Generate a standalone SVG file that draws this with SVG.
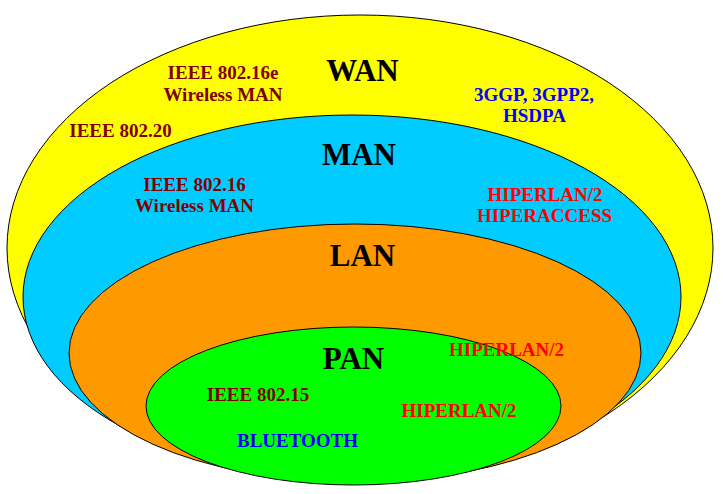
<svg xmlns="http://www.w3.org/2000/svg" width="723" height="494" viewBox="0 0 723 494">
<style>
.ring{stroke:#000;stroke-width:1}
text{font-family:"Liberation Serif","Times New Roman",serif;font-weight:bold;text-anchor:middle}
.title{font-size:31px;fill:#000}
.lbl{font-size:19px}
.ieee{fill:#800000}
.red{fill:#FF0000}
.blue{fill:#0000FF}
</style>
<rect width="723" height="494" fill="#fff"/>
<g id="wan">
<ellipse class="ring" cx="360" cy="248" rx="353" ry="233" fill="#FFFF00"/>
</g>
<g id="man">
<ellipse class="ring" cx="352" cy="297" rx="329" ry="182" fill="#00CCFF"/>
</g>
<g id="lan">
<ellipse class="ring" cx="355" cy="353" rx="286" ry="129" fill="#FF9900"/>
</g>
<g id="pan">
<ellipse class="ring" cx="353.5" cy="406" rx="207.5" ry="79" fill="#00FF00"/>
</g>
<g id="wan-labels">
<text class="title" x="362.5" y="81">WAN</text>
<text class="lbl ieee" x="223" y="79">IEEE 802.16e</text>
<text class="lbl ieee" x="223" y="100.5">Wireless MAN</text>
<text class="lbl ieee" x="120.5" y="137">IEEE 802.20</text>
<text class="lbl blue" x="534" y="100.5">3GGP, 3GPP2,</text>
<text class="lbl blue" x="534.5" y="122">HSDPA</text>
</g>
<g id="man-labels">
<text class="title" x="359" y="165">MAN</text>
<text class="lbl ieee" x="194.5" y="190.5">IEEE 802.16</text>
<text class="lbl ieee" x="194.5" y="212">Wireless MAN</text>
<text class="lbl red" x="545" y="201">HIPERLAN/2</text>
<text class="lbl red" x="544.5" y="221.5">HIPERACCESS</text>
</g>
<g id="lan-labels">
<text class="title" x="362.5" y="266">LAN</text>
<text class="lbl red" x="506.5" y="355.5">HIPERLAN/2</text>
</g>
<g id="pan-labels">
<text class="title" x="353.5" y="369">PAN</text>
<text class="lbl ieee" x="258" y="400.5">IEEE 802.15</text>
<text class="lbl red" x="459" y="416.5">HIPERLAN/2</text>
<text class="lbl blue" x="297.5" y="447">BLUETOOTH</text>
</g>
</svg>
